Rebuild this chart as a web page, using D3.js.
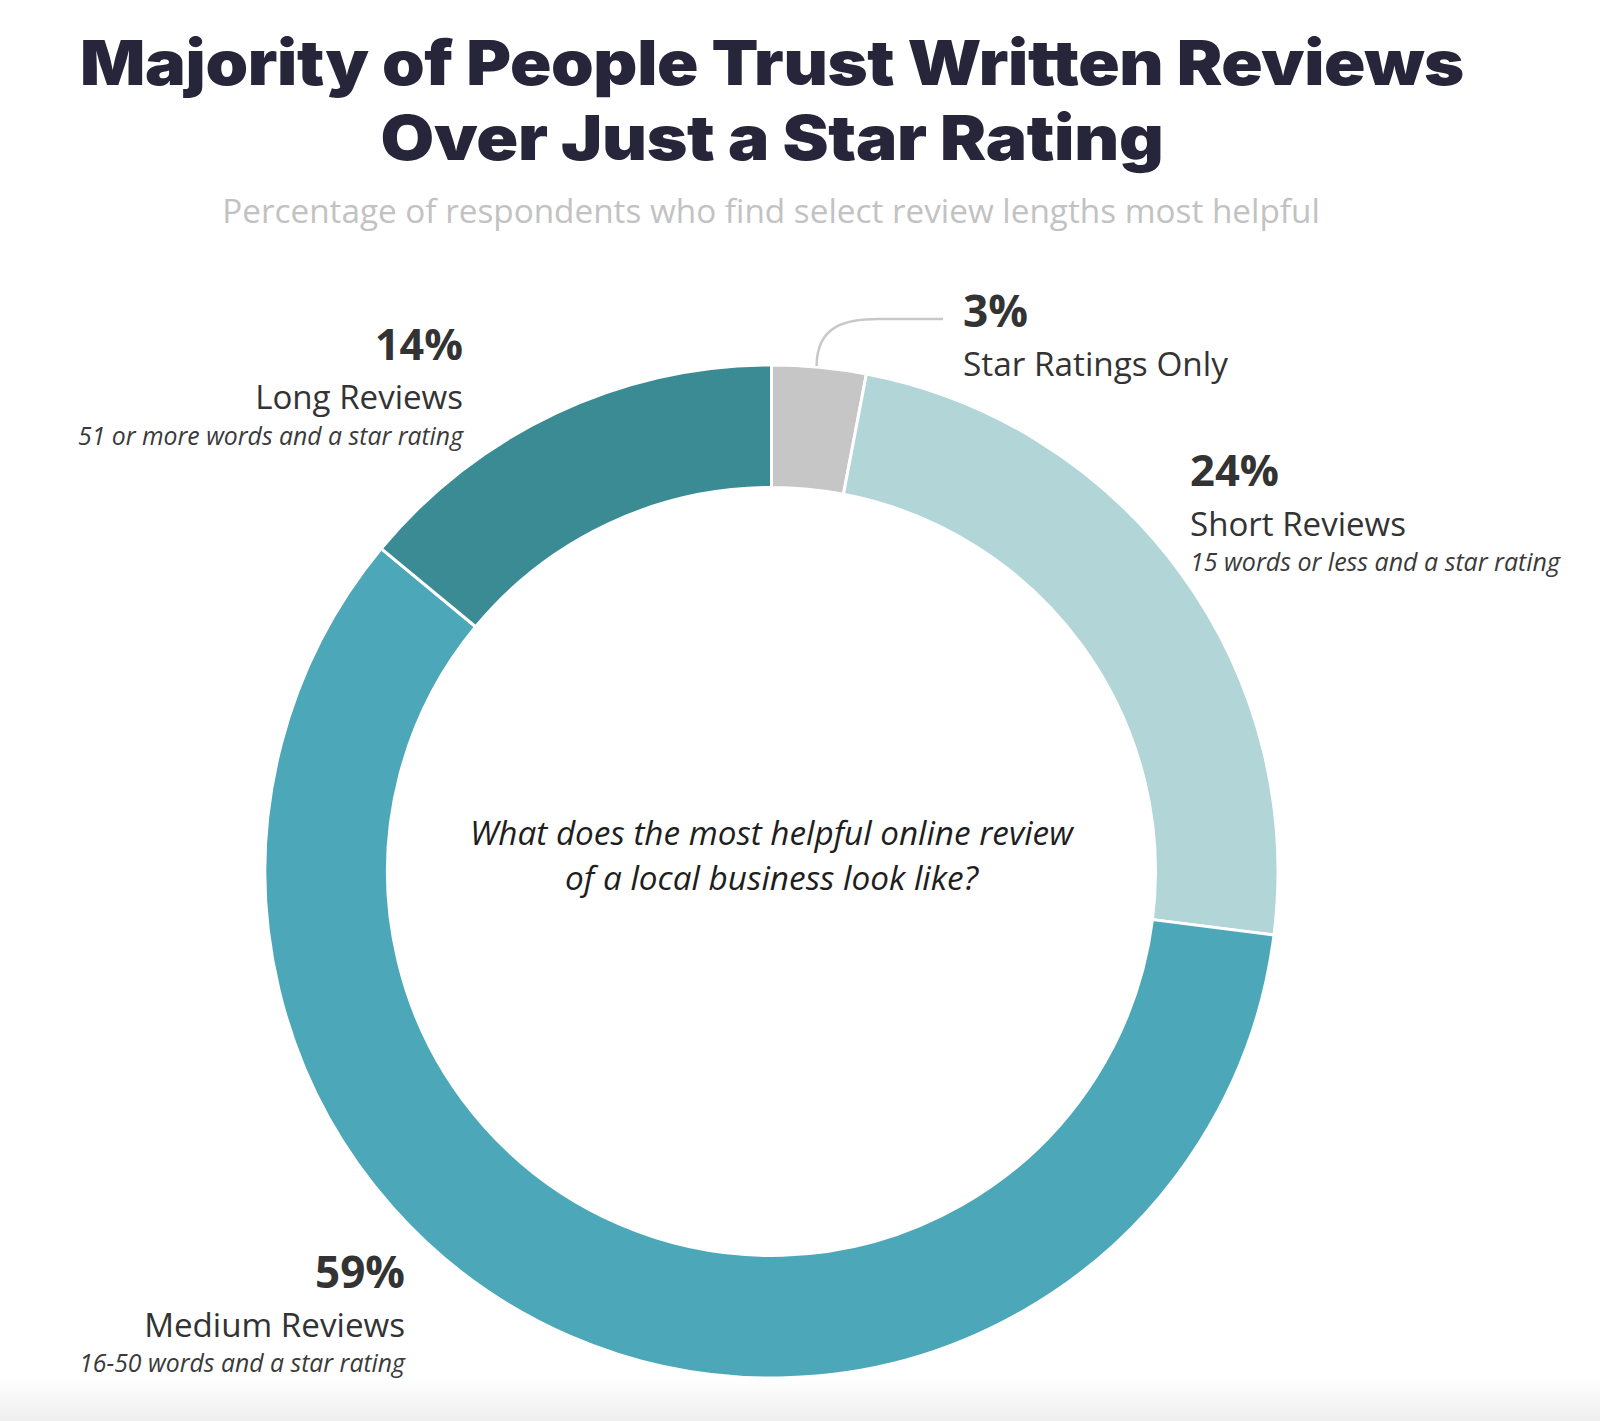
<!DOCTYPE html>
<html>
<head>
<meta charset="utf-8">
<script src="https://cdn.jsdelivr.net/npm/d3@7"></script>
<style>
  html, body { margin: 0; padding: 0; background: #ffffff; }
  svg { display: block; }
</style>
</head>
<body>
<svg id="chart" width="1600" height="1421"></svg>
<script>
// ---- data ----
const categories = ["Star Ratings Only", "Short Reviews", "Medium Reviews", "Long Reviews"];
const values = [3, 24, 59, 14];
const descriptions = ["", "15 words or less and a star rating", "16-50 words and a star rating", "51 or more words and a star rating"];
const sliceColors = ["#c6c6c6", "#b2d5d8", "#4ca7b8", "#3b8b95"];
const titleLines = ["Majority of People Trust Written Reviews", "Over Just a Star Rating"];
const subtitle = "Percentage of respondents who find select review lengths most helpful";
const centerLines = ["What does the most helpful online review", "of a local business look like?"];

// ---- layout ----
const W = 1600, H = 1421;
const cx = 771.5, cy = 871.5, R = 506.5, r = 384;
const svg = d3.select("#chart");

// bottom gradient strip
const defs = svg.append("defs");
const g1 = defs.append("linearGradient").attr("id", "bottomFade").attr("x1", 0).attr("y1", 0).attr("x2", 0).attr("y2", 1);
g1.append("stop").attr("offset", "0%").attr("stop-color", "#ffffff");
g1.append("stop").attr("offset", "100%").attr("stop-color", "#eeeeee");
svg.append("rect").attr("x", 0).attr("y", 1378).attr("width", W).attr("height", H - 1378).attr("fill", "url(#bottomFade)");

function fit(sel, target) {
  const node = sel.node();
  const fs = parseFloat(sel.attr("font-size"));
  const w = node.getComputedTextLength();
  if (w > 0) sel.attr("font-size", (fs * target / w).toFixed(2));
  return sel;
}

// title (glyphs stretched horizontally to mimic the wide geometric face)
const titleSpecs = [{y: 85, w: 1384}, {y: 160, w: 783}];
titleLines.forEach((t, i) => {
  const s = svg.append("text")
    .attr("x", 0).attr("y", 0)
    .attr("text-anchor", "middle")
    .attr("font-family", "Inter, 'Noto Sans', sans-serif")
    .attr("font-weight", 900)
    .attr("font-size", 62)
    .attr("letter-spacing", -0.3)
    .attr("fill", "#26253a")
    .text(t);
  const w = s.node().getComputedTextLength();
  const sx = titleSpecs[i].w / w;
  s.attr("transform", `translate(772,${titleSpecs[i].y}) scale(${sx.toFixed(4)},1)`);
});

// subtitle
fit(svg.append("text")
  .attr("x", 771).attr("y", 223)
  .attr("text-anchor", "middle")
  .attr("font-family", "'Open Sans', sans-serif")
  .attr("font-size", 31)
  .attr("fill", "#c2c2c2")
  .text(subtitle), 1098);

// donut
const pie = d3.pie().sort(null).value(d => d)(values);
const arc = d3.arc().innerRadius(r).outerRadius(R);
const g = svg.append("g").attr("transform", `translate(${cx},${cy})`);
g.selectAll("path.slice").data(pie).join("path")
  .attr("class", "slice")
  .attr("d", arc)
  .attr("fill", (d, i) => sliceColors[i])
  .attr("stroke", "#ffffff")
  .attr("stroke-width", 3)
  .attr("stroke-linejoin", "miter");

// leader line for the small slice
const s0 = pie[0];
const midA = (s0.startAngle + s0.endAngle) / 2 - 0.005;
const px = cx + R * Math.sin(midA), py = cy - R * Math.cos(midA);
const ly = 319, lx = 943;
svg.append("path")
  .attr("d", `M${px},${py - 1} C${px},${ly + 6} ${px + 30},${ly} ${px + 62},${ly} L${lx},${ly}`)
  .attr("fill", "none")
  .attr("stroke", "#c8c8c8")
  .attr("stroke-width", 2.5);

// label placement
const labelPos = [
  {anchor: "start", x: 963, yp: 327, yn: 376, yd: 0, wp: 65, wn: 265, wd: 0},
  {anchor: "start", x: 1190, yp: 486, yn: 536, yd: 571, wp: 89, wn: 216, wd: 370},
  {anchor: "end", x: 405, yp: 1288, yn: 1337, yd: 1372, wp: 90, wn: 261, wd: 326},
  {anchor: "end", x: 463, yp: 360, yn: 409, yd: 445, wp: 88, wn: 208, wd: 385}
];
categories.forEach((c, i) => {
  const p = labelPos[i];
  fit(svg.append("text").attr("x", p.x).attr("y", p.yp).attr("text-anchor", p.anchor)
    .attr("font-family", "'Open Sans', sans-serif").attr("font-weight", 700)
    .attr("font-size", 42).attr("fill", "#333333").text(values[i] + "%"), p.wp);
  fit(svg.append("text").attr("x", p.x).attr("y", p.yn).attr("text-anchor", p.anchor)
    .attr("font-family", "'Open Sans', sans-serif").attr("font-weight", 400)
    .attr("font-size", 32).attr("fill", "#333333").text(c), p.wn);
  if (descriptions[i]) {
    fit(svg.append("text").attr("x", p.x).attr("y", p.yd).attr("text-anchor", p.anchor)
      .attr("font-family", "'Open Sans', sans-serif").attr("font-style", "italic")
      .attr("font-size", 24).attr("fill", "#3a3a3a").text(descriptions[i]), p.wd);
  }
});

// center question
const cSpecs = [{y: 845, w: 603}, {y: 890, w: 413}];
centerLines.forEach((t, i) => {
  fit(svg.append("text").attr("x", 771.5).attr("y", cSpecs[i].y).attr("text-anchor", "middle")
    .attr("font-family", "'Open Sans', sans-serif").attr("font-style", "italic")
    .attr("font-size", 32).attr("fill", "#1e1e1e").text(t), cSpecs[i].w);
});
</script>
</body>
</html>
